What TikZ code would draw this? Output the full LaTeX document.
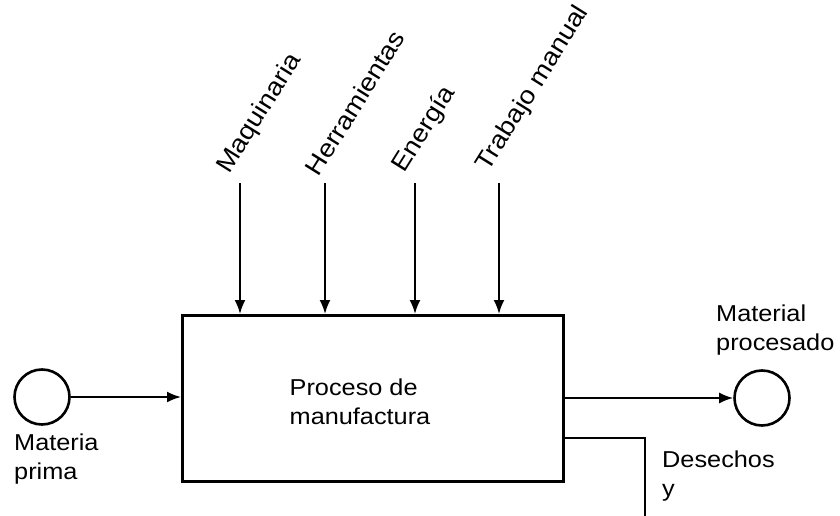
\documentclass[tikz,border=0pt]{standalone}
\usepackage{fontspec}
\setmainfont{Liberation Sans}[FakeStretch=1.1]
\usetikzlibrary{arrows.meta}
\begin{document}
\begin{tikzpicture}[x=1pt,y=-1pt,
  lbl/.style={font=\fontsize{23}{28.5}\selectfont, inner sep=0pt, align=left},
  inlbl/.style={font=\fontsize{25}{28}\selectfont, inner sep=0pt, anchor=south west, rotate=58},
  flow/.style={line width=2pt, -{Latex[length=14pt,width=11pt]}},
  plain/.style={line width=2pt},
  endpt/.style={circle, draw, line width=2.6pt, minimum size=55pt, inner sep=0pt}]
\useasboundingbox (0,0) rectangle (840,516);

% process block
\node[draw, line width=3.2pt, minimum width=381pt, minimum height=166pt, anchor=north west] (box) at (181,314) {};
\node[lbl] (proc) at (360,402) {Proceso de\\manufactura};

% input and output material
\node[endpt] (mp) at (42,397) {};
\node[endpt] (mo) at (762,398) {};
\node[lbl, anchor=north west] (mpl) at (14,434) {Materia\\prima};
\node[lbl, anchor=north west] (mol) at (716,305) {Material\\procesado};

\draw[flow] (mp.east) -- (mp.east -| box.west);
\draw[flow] (mo.west -| box.east) -- (mo.west);

% waste line
\coordinate (wc) at (645,438);
\coordinate (wend) at (645,520);
\draw[plain] (wc -| box.east) -- (wc) -- (wend);
\node[lbl, anchor=north west] (wl) at (662,451) {Desechos\\y};

% resources entering from above
\coordinate (t1) at (240,183);
\coordinate (t2) at (325,183);
\coordinate (t3) at (415,183);
\coordinate (t4) at (499,183);
\foreach \c in {t1,t2,t3,t4}
  \draw[flow] (\c) -- (\c |- box.north);

\node[inlbl] (l1) at (234,178) {Maquinaria};
\node[inlbl] (l2) at (319,178) {Herramientas};
\node[inlbl] (l3) at (409,177) {Energía};
\node[inlbl] (l4) at (493,176) {Trabajo manual};
\end{tikzpicture}
\end{document}
